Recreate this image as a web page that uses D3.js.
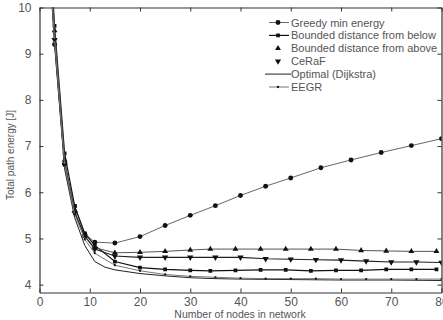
<!DOCTYPE html>
<html>
<head>
<meta charset="utf-8">
<script src="https://cdn.jsdelivr.net/npm/d3@7"></script>
<style>
  html, body { margin: 0; padding: 0; background: #fff; }
  svg { display: block; font-family: "Liberation Sans", Arial, sans-serif; }
</style>
</head>
<body>
<div id="chart"></div>
<script>
// values
const greedyX = [2, 3, 5, 7, 9, 11, 15, 20, 25, 30, 35, 40, 45, 50, 56, 62, 68, 74, 80];
const greedyY = [11.0, 9.2, 6.6, 5.7, 5.1, 4.92, 4.9, 5.04, 5.28, 5.5, 5.71, 5.93, 6.13, 6.31, 6.53, 6.7, 6.86, 7.01, 7.16];

const boundX = [2, 3, 5, 7, 9, 11, 15, 20, 25, 30, 34, 39, 44, 49, 54, 59, 64, 69, 74, 79];
const belowY = [11.5, 9.6, 6.84, 5.7, 5.11, 4.85, 4.5, 4.37, 4.33, 4.31, 4.3, 4.31, 4.32, 4.32, 4.3, 4.31, 4.31, 4.33, 4.33, 4.33];
const aboveY = [11.2, 9.5, 6.7, 5.6, 5.05, 4.8, 4.69, 4.7, 4.72, 4.75, 4.77, 4.77, 4.77, 4.77, 4.77, 4.77, 4.74, 4.73, 4.72, 4.72];

const evenX = [2, 3, 5, 7, 9, 11, 15, 20, 25, 30, 35, 40, 45, 50, 55, 60, 65, 70, 75, 80];
const cerafY = [11.1, 9.3, 6.6, 5.55, 5.05, 4.77, 4.62, 4.59, 4.59, 4.59, 4.59, 4.59, 4.56, 4.55, 4.54, 4.53, 4.51, 4.49, 4.49, 4.48];
const eegrY = [11.0, 9.3, 6.59, 5.52, 4.98, 4.68, 4.42, 4.3, 4.22, 4.18, 4.16, 4.14, 4.13, 4.13, 4.13, 4.12, 4.12, 4.12, 4.12, 4.12];

const optimalX = [2, 3, 5, 7, 9, 11, 13, 15, 20, 25, 30, 35, 40, 50, 60, 70, 80];
const optimalY = [10.9, 9.2, 6.5, 5.45, 4.85, 4.5, 4.38, 4.32, 4.24, 4.19, 4.15, 4.13, 4.12, 4.11, 4.1, 4.1, 4.09];

const xTicks = [0, 10, 20, 30, 40, 50, 60, 70, 80];
const yTicks = [4, 5, 6, 7, 8, 9, 10];

const seriesNames = ['Greedy min energy', 'Bounded distance from below', 'Bounded distance from above', 'CeRaF', 'Optimal (Dijkstra)', 'EEGR'];

const W = 443, H = 320;
const margin = {left: 39.5, right: 1.5, top: 7.5, bottom: 27.5};
const iw = W - margin.left - margin.right;
const ih = H - margin.top - margin.bottom;

const x = d3.scaleLinear().domain([0, 80]).range([0, iw]);
const y = d3.scaleLinear().domain([3.83, 10]).range([ih, 0]);

const svg = d3.select('#chart').append('svg')
    .attr('width', W)
    .attr('height', H);

svg.append('defs').append('clipPath')
    .attr('id', 'plot-clip')
    .append('rect')
    .attr('width', iw)
    .attr('height', ih);

const g = svg.append('g')
    .attr('transform', `translate(${margin.left},${margin.top})`);

// axes with inward ticks on all four sides
const axisColor = '#333';
const tickLen = 4;

const axBottom = g.append('g').attr('transform', `translate(0,${ih})`)
    .call(d3.axisBottom(x).tickValues(xTicks).tickSizeInner(-tickLen).tickSizeOuter(0).tickPadding(5));
const axTop = g.append('g')
    .call(d3.axisTop(x).tickValues(xTicks).tickSizeInner(-tickLen).tickSizeOuter(0).tickFormat(''));
const axLeft = g.append('g')
    .call(d3.axisLeft(y).tickValues(yTicks).tickFormat(d3.format('d'))
        .tickSizeInner(-tickLen).tickSizeOuter(0).tickPadding(8));
const axRight = g.append('g').attr('transform', `translate(${iw},0)`)
    .call(d3.axisRight(y).tickValues(yTicks).tickSizeInner(-tickLen).tickSizeOuter(0).tickFormat(''));

[axBottom, axTop, axLeft, axRight].forEach(a => {
    a.selectAll('path.domain').attr('stroke', axisColor).attr('stroke-width', 1.2);
    a.selectAll('line').attr('stroke', axisColor);
    a.selectAll('text').attr('fill', '#555').attr('font-size', 12)
        .attr('font-family', '"Liberation Sans", Arial, sans-serif');
});

// axis titles
svg.append('text')
    .attr('x', 240)
    .attr('y', 318)
    .attr('text-anchor', 'middle')
    .attr('font-size', 10.5)
    .attr('fill', '#555')
    .text('Number of nodes in network');

svg.append('text')
    .attr('transform', 'translate(14,155) rotate(-90)')
    .attr('text-anchor', 'middle')
    .attr('font-size', 10)
    .attr('fill', '#555')
    .text('Total path energy [J]');

const line = d3.line()
    .x(d => x(d[0]))
    .y(d => y(d[1]));

const zip = (xs, ys) => xs.map((v, i) => [v, ys[i]]);

const series = [
    {name: seriesNames[0], pts: zip(greedyX, greedyY), marker: 'circle', stroke: '#666', width: 1},
    {name: seriesNames[1], pts: zip(boundX, belowY), marker: 'square', stroke: '#111', width: 1.2},
    {name: seriesNames[2], pts: zip(boundX, aboveY), marker: 'triangle', stroke: '#555', width: 1},
    {name: seriesNames[3], pts: zip(evenX, cerafY), marker: 'triangle-down', stroke: '#222', width: 1.1},
    {name: seriesNames[4], pts: zip(optimalX, optimalY), marker: null, stroke: '#222', width: 1},
    {name: seriesNames[5], pts: zip(evenX, eegrY), marker: 'dot', stroke: '#777', width: 1}
];

const symbolFor = {
    'circle': d3.symbol().type(d3.symbolCircle).size(19),
    'square': d3.symbol().type(d3.symbolSquare).size(14),
    'triangle': d3.symbol().type(d3.symbolTriangle).size(15),
    'triangle-down': d3.symbol().type(d3.symbolTriangle).size(17),
    'dot': d3.symbol().type(d3.symbolCircle).size(4)
};

const plot = g.append('g').attr('clip-path', 'url(#plot-clip)');

series.forEach(s => {
    plot.append('path')
        .datum(s.pts)
        .attr('fill', 'none')
        .attr('stroke', s.stroke)
        .attr('stroke-width', s.width)
        .attr('d', line);

    if (s.marker) {
        plot.selectAll(null)
            .data(s.pts.filter(p => p[1] <= 10))
            .enter().append('path')
            .attr('d', symbolFor[s.marker]())
            .attr('fill', '#111')
            .attr('transform', p => `translate(${x(p[0])},${y(p[1])})${s.marker === 'triangle-down' ? ' rotate(180)' : ''}`);
    }
});

// legend
const legend = svg.append('g');
const legendY0 = 22.5, legendStep = 12.9;
const lineOn = [true, true, false, false, true, true];

series.forEach((s, i) => {
    const ly = legendY0 + i * legendStep;
    if (lineOn[i]) {
        legend.append('line')
            .attr('x1', s.marker ? 269 : 265)
            .attr('x2', s.marker ? 289 : 291)
            .attr('y1', ly)
            .attr('y2', ly)
            .attr('stroke', s.stroke)
            .attr('stroke-width', s.width);
    }
    if (s.marker) {
        legend.append('path')
            .attr('d', symbolFor[s.marker]())
            .attr('fill', '#111')
            .attr('transform', `translate(278,${ly})${s.marker === 'triangle-down' ? ' rotate(180)' : ''}`);
    }
    legend.append('text')
        .attr('x', 291)
        .attr('y', ly + 4)
        .attr('font-size', 11)
        .attr('fill', '#555')
        .text(s.name);
});
</script>
</body>
</html>
